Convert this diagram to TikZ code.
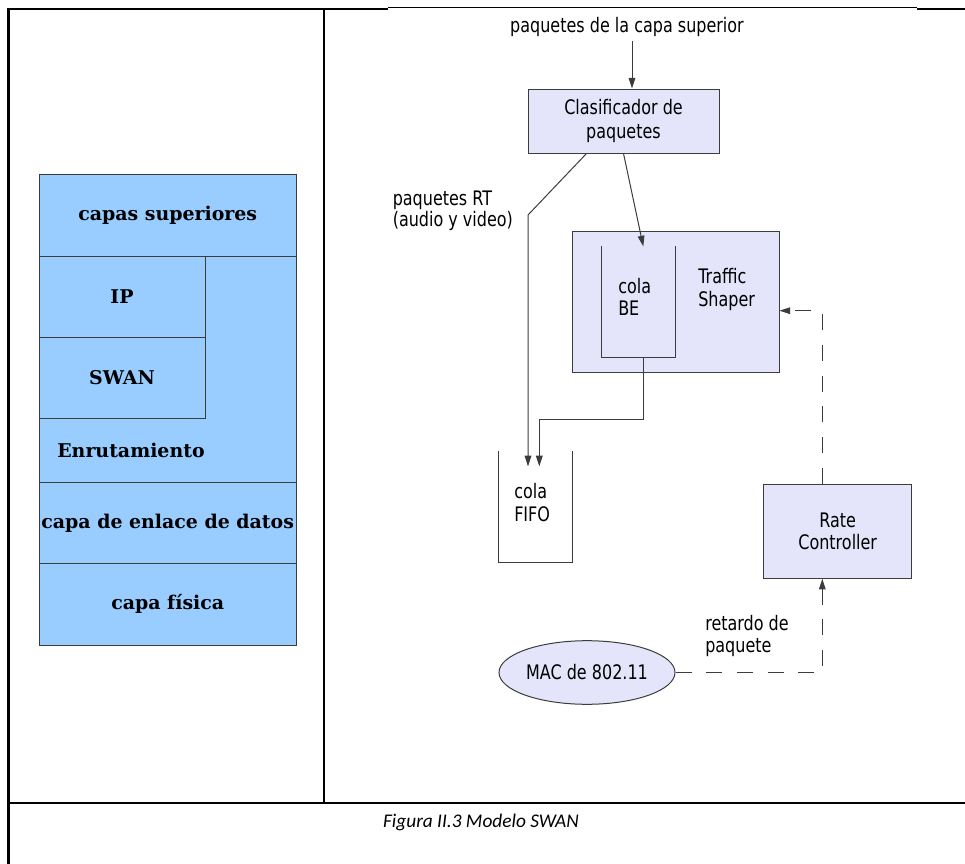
\documentclass[tikz,border=0pt]{standalone}
\usepackage{fontspec}
\usepackage{tikz}
\usetikzlibrary{calc,arrows.meta,shapes.geometric}
\newfontfamily\diagfont[FakeStretch=0.8]{DejaVu Sans}
\newfontfamily\capafont{DejaVu Serif}
\newfontfamily\piefont{Carlito}
\definecolor{azulcapa}{RGB}{153,204,255}
\definecolor{lilabloque}{RGB}{228,228,250}
\definecolor{trazo}{RGB}{60,60,60}
\tikzset{
  bloque/.style={draw=trazo, fill=lilabloque, line width=0.75pt, font=\diagfont\fontsize{15}{17}\selectfont, align=center, inner sep=0pt},
  rotulo/.style={font=\diagfont\fontsize{15}{17}\selectfont, align=left, inner sep=0pt},
  textocapa/.style={font=\capafont\bfseries\fontsize{14.2}{16}\selectfont, inner sep=0pt},
  recipiente/.style={inner sep=0pt},
  flecha/.style={draw=trazo, line width=0.75pt, -{Triangle[length=8pt,width=5pt]}},
  discont/.style={flecha, dash pattern=on 12pt off 11pt},
}

\begin{document}
\begin{tikzpicture}[x=0.75pt,y=0.75pt,yscale=-1,xscale=1]
\useasboundingbox (0,0) rectangle (965,864);
%Table lines
\draw[line width=1.6pt] (8.5,864) -- (8.5,9) -- (388,9) ;
\draw[line width=1.6pt] (917,9) -- (965,9) ;
\draw[line width=0.8pt] (388,7.5) -- (917,7.5) ;
\draw[line width=1.6pt] (324,9) -- (324,803) ;
\draw[line width=1.6pt] (8.5,803) -- (965,803) ;

%Shape: Rectangle (protocol stack)
\draw[draw=trazo, fill=azulcapa, line width=0.75pt] (39.5,174.5) rectangle (296,645) ;
\draw[trazo, line width=0.75pt] (39.5,256) -- (296,256) (39.5,482.7) -- (296,482.7) (39.5,563.3) -- (296,563.3) ;
\draw[trazo, line width=0.75pt] (39.5,418.3) -- (205,418.3) -- (205,256) (39.5,337) -- (205,337) ;
\node[textocapa] (capsup) at (167.75,215) {capas superiores};
\node[textocapa] (ip) at (122,297) {IP};
\node[textocapa] (swan) at (122,378) {SWAN};
\node[textocapa] (enrut) at (131,450) {Enrutamiento};
\node[textocapa] (enlace) at (167.75,523) {capa de enlace de datos};
\node[textocapa] (fisica) at (167.75,604) {capa física};

%Shapes: Rectangles
\node[rotulo] (entrada) at (627,27) {paquetes de la capa superior};
\node[bloque, minimum width=143.25pt, minimum height=48pt] (clasif) at (623.5,121) {Clasificador de\\[1pt]paquetes};
\node[bloque, minimum width=155.25pt, minimum height=106.3pt] (shaper) at (675.5,301.9) {};
\node[recipiente, minimum width=55pt, minimum height=82.7pt] (colabe) at (638.3,301.8) {};
\node[recipiente, minimum width=55pt, minimum height=83pt] (fifo) at (535.7,507) {};
\node[bloque, minimum width=111pt, minimum height=70.5pt] (rate) at (837.7,531.3) {Rate\\Controller};
%Shape: Ellipse
\node[bloque, ellipse, minimum width=132pt, minimum height=47.7pt] (mac) at (587,672.5) {MAC de 802.11};
%Queues
\draw[trazo, line width=0.75pt] (colabe.north west) -- (colabe.south west) -- (colabe.south east) -- (colabe.north east) ;
\draw[trazo, line width=0.75pt] (fifo.north west) -- (fifo.south west) -- (fifo.south east) -- (fifo.north east) ;
%Text nodes
\node[rotulo, anchor=west] (txtbe) at (618,297) {cola\\BE};
\node[rotulo, anchor=west] (txtshaper) at (698,289.5) {Traffic\\Shaper};
\node[rotulo, anchor=west] (txtfifo) at (514,502.3) {cola\\FIFO};
\node[rotulo, anchor=west, font=\diagfont\fontsize{15}{14.5}\selectfont] (txtrt) at (392.5,211) {paquetes RT\\(audio y video)};
\node[rotulo, anchor=west] (txtret) at (705,636) {retardo de\\paquete};

%Connectors
\coordinate (rtcodo) at (528,215);
\draw[flecha] ($(entrada.south)+(5,4)$) -- ($(clasif.north)+(8.5,0)$) ;
\draw[flecha] (clasif.south) -- ($(colabe.north)+(5,0)$) ;
\draw[flecha] ($(clasif.south)+(-37,0)$) -- (rtcodo) -- ($(fifo.north)+(-7.7,15)$) ;
\draw[flecha] ($(colabe.south)+(5,0)$) -- ++(0,62.3) -| ($(fifo.north)+(3.6,15)$) ;
\draw[discont] ($(rate.north)+(-15.4,0)$) |- ($(shaper.east)+(0,8.8)$) ;
\draw[discont] (mac.east) -| ($(rate.south)+(-15.4,0)$) ;

%Caption
\node[font=\piefont\itshape\fontsize{14.5}{17}\selectfont, inner sep=0pt] (pie) at (481,822) {Figura II.3 Modelo SWAN};
\end{tikzpicture}
\end{document}
